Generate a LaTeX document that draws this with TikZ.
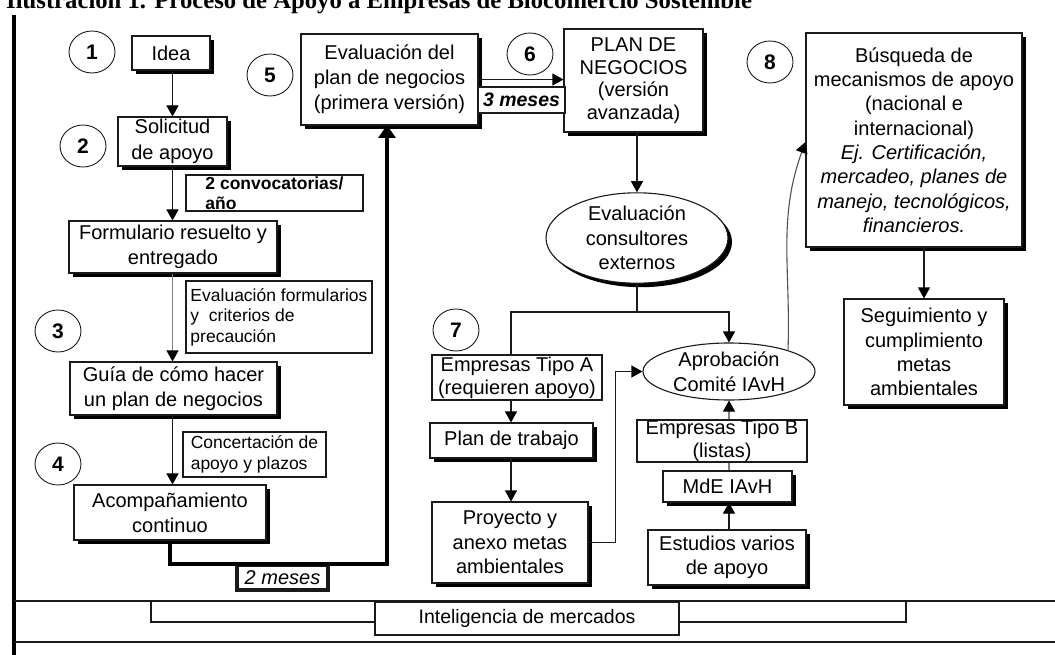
\documentclass[tikz,border=0pt]{standalone}
\usepackage{fontspec}
\setmainfont{Liberation Sans}
\newfontfamily\titlefont{Liberation Serif}
\usetikzlibrary{shapes.geometric,arrows.meta,shadows,calc}
\definecolor{ink}{HTML}{1A1A1A}
\definecolor{soft}{HTML}{808080}
\definecolor{mid}{HTML}{505050}

\tikzset{
  base/.style={draw=ink, line width=1.1pt, fill=white, inner sep=0pt, align=center,
    font=\fontsize{20}{24.5}\selectfont},
  card/.style={base, drop shadow={shadow xshift=4pt, shadow yshift=-4pt, fill=black, opacity=1}},
  note/.style={base, align=left, font=\fontsize{17.5}{20.5}\selectfont},
  num/.style={draw=ink, line width=0.9pt, ellipse, minimum width=46pt, minimum height=42pt,
    inner sep=0pt, font=\bfseries\fontsize{21}{24}\selectfont},
  link/.style={draw=ink, line width=1.1pt},
  arr/.style={link, -{Triangle[length=11pt,width=12pt,color=black]}},
  heavy/.style={draw=black, line width=4.5pt},
  band/.style={draw=ink, line width=1.3pt},
}

\begin{document}
\begin{tikzpicture}[x=1pt,y=-1pt]
\useasboundingbox (0,0) rectangle (1055,655);
\clip (0,0) rectangle (1055,655);

% caption (its upper part runs off the page)
\node[anchor=base west, inner sep=0pt, font=\titlefont\bfseries\fontsize{24.7}{28}\selectfont]
  (caption) at (6,9) {Ilustración 1. Proceso de Apoyo a Empresas de Biocomercio Sostenible};

% frame
\draw[line width=4.5pt] (14,15) -- (14,660);
\draw[band] (14,601) -- (1060,601);
\draw[band] (14,642) -- (1060,642);

% step numbers
\node[num] (n1) at (92,52) {1};
\node[num] (n2) at (83,146) {2};
\node[num] (n3) at (58,331) {3};
\node[num] (n4) at (58,464) {4};
\node[num] (n5) at (270,75) {5};
\node[num] (n6) at (530,54) {6};
\node[num] (n7) at (456,330) {7};
\node[num] (n8) at (770,62) {8};

% left column
\node[card, minimum width=78pt, minimum height=34pt] (idea) at (171,53) {Idea};
\node[card, minimum width=109pt, minimum height=49pt, font=\fontsize{20}{25.5}\selectfont] (sol) at (172.5,141.5) {Solicitud\\de apoyo};
\node[note, minimum width=177pt, minimum height=36pt, font=\bfseries\fontsize{17.5}{19.5}\selectfont] (conv) at (274.5,193) {2 convocatorias/\\año};
\node[card, minimum width=208pt, minimum height=52pt, font=\fontsize{20}{25}\selectfont] (form) at (173,247) {Formulario resuelto y\\entregado};
\node[note, minimum width=186pt, minimum height=72pt] (evalform) at (279,317) {Evaluación formularios\\y\ \ criterios de\\precaución};
\node[card, minimum width=207pt, minimum height=53pt, font=\fontsize{20}{25}\selectfont] (guia) at (173.5,388.5) {Guía de cómo hacer\\un plan de negocios};
\node[note, minimum width=143pt, minimum height=45pt] (conc) at (254.5,454.5) {Concertación de\\apoyo y plazos};
\node[card, minimum width=192pt, minimum height=55pt, font=\fontsize{20}{25}\selectfont] (acomp) at (170,512.5) {Acompañamiento\\continuo};

\draw[arr] (idea.south -| sol.north) -- (sol.north);
\draw[arr] (sol.south) -- (sol.south |- form.north);
\draw[arr, draw=soft] (sol.south |- form.south) -- (sol.south |- guia.north);
\draw[arr] (sol.south |- guia.south) -- (sol.south |- acomp.north);

% thick return path to the first evaluation
\node[base, line width=4pt, minimum width=91pt, minimum height=25pt, font=\itshape\fontsize{20}{24}\selectfont] (twom) at (282.5,577.5) {2 meses};
\coordinate (tturn) at (387,564);
\draw[heavy, -{Triangle[length=13pt,width=17pt]}] (acomp.south) |- (tturn) -- (tturn |- 0,125);

% top row
\node[card, minimum width=177pt, minimum height=91pt, font=\fontsize{20}{25}\selectfont] (evalplan) at (389.5,79.5) {Evaluación del\\plan de negocios\\(primera versión)};
\node[card, minimum width=139pt, minimum height=103pt, font=\fontsize{20}{22.5}\selectfont] (plan) at (633.5,80.5) {PLAN DE\\NEGOCIOS\\(versión\\avanzada)};
\node[base, minimum width=87pt, minimum height=26pt, font=\bfseries\itshape\fontsize{19.5}{24}\selectfont] (threem) at (521.5,100) {3 meses};
\draw[arr] (evalplan.east) -- (evalplan.east -| plan.west);

\node[card, ellipse, minimum width=182pt, minimum height=90pt, font=\fontsize{20}{24.5}\selectfont] (consult) at (637,238) {Evaluación\\consultores\\externos};
\draw[arr] (plan.south -| consult.north) -- (consult.north);

% approval branch
\node[base, minimum width=170pt, minimum height=45pt, font=\fontsize{20}{23}\selectfont] (tipoA) at (517,377.5) {Empresas Tipo A\\(requieren apoyo)};
\node[card, minimum width=163pt, minimum height=35pt] (trabajo) at (511.5,440.5) {Plan de trabajo};
\node[card, minimum width=156pt, minimum height=81pt, font=\fontsize{20}{24.5}\selectfont] (proy) at (510,542.5) {Proyecto y\\anexo metas\\ambientales};
\node[base, ellipse, minimum width=172pt, minimum height=57pt, font=\fontsize{20}{25}\selectfont] (aprob) at (729,371.5) {Aprobación\\Comité IAvH};
\node[base, minimum width=170pt, minimum height=42pt, font=\fontsize{20}{23}\selectfont] (tipoB) at (722,441) {Empresas Tipo B\\(listas)};
\node[card, minimum width=129pt, minimum height=31pt] (mde) at (727.5,486.5) {MdE IAvH};
\node[card, minimum width=158pt, minimum height=55pt, font=\fontsize{20}{23.5}\selectfont] (estud) at (727,557.5) {Estudios varios\\de apoyo};

\coordinate (split) at (637,312);
\coordinate (colA) at (511,312);
\coordinate (colB) at (729,312);
\draw[link] (consult.south) -- (split) -- (colA) -- (colA |- tipoA.north);
\draw[arr] (split) -- (colB) -- (aprob.north);
\draw[arr] (colA |- tipoA.south) -- (colA |- trabajo.north);
\draw[arr] (colA |- trabajo.south) -- (colA |- proy.north);
\draw[arr] (proy.east) -- ++(27,0) |- (aprob.west);
\draw[arr, draw=soft] (aprob.south |- tipoB.north) -- (aprob.south);
\draw[link, draw=soft] (aprob.south |- mde.north) -- (aprob.south |- tipoB.south);
\draw[arr] (aprob.south |- estud.north) -- (aprob.south |- mde.south);

% support mechanisms
\node[card, minimum width=216pt, minimum height=214pt, font=\fontsize{20}{24.3}\selectfont] (busq) at (914,140)
  {Búsqueda de\\mecanismos de apoyo\\(nacional e\\internacional)\\\textit{Ej. Certificación,}\\\textit{mercadeo, planes de}\\\textit{manejo, tecnológicos,}\\\textit{financieros.}};
\node[card, minimum width=160pt, minimum height=106pt, font=\fontsize{20}{24.3}\selectfont] (seg) at (924,352)
  {Seguimiento y\\cumplimiento\\metas\\ambientales};
\draw[arr, draw=mid] ($(aprob.center)+(59,-20.7)$) to[out=88,in=-110] ($(busq.west)+(0,2)$);
\draw[arr] (busq.south -| seg.north) -- (seg.north);

% market intelligence band
\coordinate (rowL) at (0,622);
\node[base, minimum width=304pt, minimum height=33pt, font=\fontsize{19.5}{23}\selectfont] (intel) at (527,618.5) {Inteligencia de mercados};
\draw[band] (151,601) |- (intel.west |- rowL);
\draw[band] (intel.east |- rowL) -| (906,601);
\end{tikzpicture}
\end{document}
